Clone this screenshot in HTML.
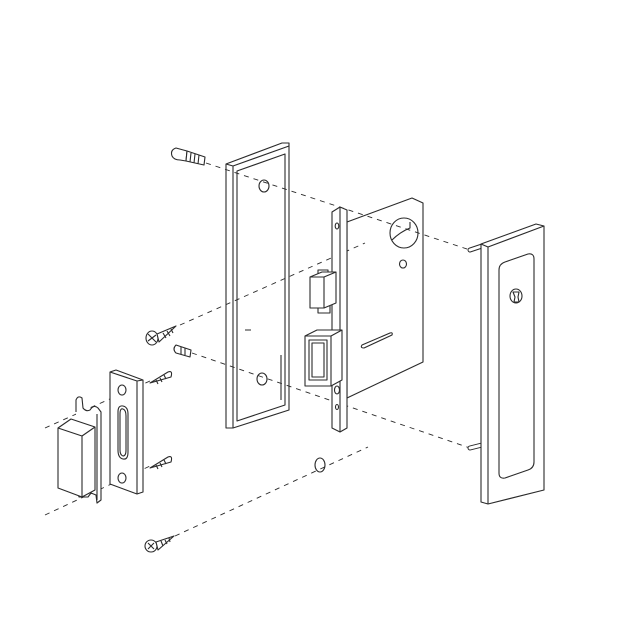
<!DOCTYPE html>
<html><head><meta charset="utf-8"><style>html,body{margin:0;padding:0;background:#fff}svg{display:block}</style></head>
<body>
<svg width="635" height="635" viewBox="0 0 635 635" xmlns="http://www.w3.org/2000/svg" fill="none" stroke="#2a2a2a" stroke-width="1.1" stroke-linejoin="round">
<rect width="635" height="635" fill="#fff" stroke="none"/>
<g fill="#fff">
<!-- top screw -->
<path d="M176 148 Q170 150 172 156 Q174 160 180 160 L186 161 L187 151 Z"/>
<path d="M187 151 L205 157 L204 165 L186 161 Z"/>
<path d="M191 153 L190 162 M195 154 L194 163 M199 155 L198 164"/>
<!-- cross screw -->
<ellipse cx="152" cy="338" rx="6" ry="7"/>
<path d="M148 334 L156 342 M148 341 L156 335"/>
<path d="M157 334 L176 326 L159 342 Z"/>
<path d="M163 333 L166 338 M167 331 L170 336 M171 329 L173 333"/>
<!-- small screw -->
<path d="M176 345 Q172 349 176 353 L190 357 L191 350 Z"/>
<path d="M181 347 L181 354 M185 348 L185 355"/>
<!-- strike screws -->
<path d="M150 383 L168 372 Q173 370 171 377 Z"/>
<path d="M156 380 L158 384 M160 378 L162 382 M164 375 L166 379"/>
<path d="M150 468 L168 457 Q173 455 171 462 Z"/>
<path d="M156 465 L158 469 M160 463 L162 467 M164 460 L166 464"/>
<!-- bottom screw -->
<ellipse cx="151" cy="546" rx="6" ry="6"/>
<path d="M148 543 L154 549 M148 549 L154 543"/>
<path d="M156 542 L174 536 L158 550 Z"/>
<path d="M161 541 L163 546 M165 540 L167 544 M169 538 L170 542"/>
</g>
<!-- trim plate -->
<path d="M226 164 L282 143 L289 143 L289 410 L233 428 L226 428 Z" fill="#fff"/>
<path d="M226 164 L233 166 L289 146 M233 166 L233 428"/>
<path d="M237 171 L285 154 L285 405 L237 421 Z"/>
<ellipse cx="264" cy="186" rx="5" ry="6"/>
<ellipse cx="262" cy="379" rx="5" ry="6"/>
<path d="M245 330 L251 330 M281 355 L281 400"/>
<!-- mortise body -->
<path d="M347 222 L412 198 L423 203 L423 362 L347 398 Z" fill="#fff"/>
<ellipse cx="404" cy="233" rx="14" ry="15"/>
<path d="M392 240 Q400 232 410 228 L410 222"/>
<ellipse cx="403" cy="264" rx="3.5" ry="4"/>
<path d="M362 345 L390 333 Q393 332 392 335 L364 348 Q360 348 362 345 Z"/>
<!-- oval -->
<ellipse cx="320" cy="465" rx="5" ry="7" fill="#fff"/>
<!-- dashed lines (drawn over) -->
<g stroke-dasharray="5,5" stroke-width="0.9">
<line x1="206" y1="163" x2="470" y2="250"/>
<line x1="180" y1="325" x2="365" y2="243"/>
<line x1="192" y1="353" x2="470" y2="448"/>
<line x1="175" y1="536" x2="368" y2="447"/>
<line x1="45" y1="428" x2="150" y2="381"/>
<line x1="45" y1="515" x2="150" y2="466"/>
</g>
<!-- faceplate -->
<path d="M332 212 L340 207 L347 210 L347 428 L340 432 L332 428 Z" fill="#fff"/>
<path d="M340 207 L340 432"/>
<ellipse cx="337" cy="226" rx="1.8" ry="3"/>
<ellipse cx="337" cy="390" rx="2.5" ry="4"/>
<ellipse cx="337" cy="407" rx="1.5" ry="2.5"/>
<!-- latch -->
<path d="M310 277 L322 272 L336 272 L336 303 L324 308 L310 308 Z" fill="#fff"/>
<path d="M310 277 L324 277 L336 272 M324 277 L324 308 M318 274 L318 270 L328 270 L328 272 M318 308 L318 313 L330 313 L330 306"/>
<!-- deadbolt -->
<path d="M305 336 L317 330 L342 330 L342 380 L331 386 L305 386 Z" fill="#fff"/>
<path d="M305 336 L331 336 L342 330 M331 336 L331 386"/>
<path d="M309 340 L327 340 L327 380 L309 380 Z M312 343 L324 343 L324 377 L312 377 Z"/>
<!-- right escutcheon -->
<path d="M470 250 L482 246" stroke-width="5" stroke-linecap="round"/>
<path d="M470 448 L482 445" stroke-width="5" stroke-linecap="round"/>
<path d="M470 250 L482 246 M470 448 L482 445" stroke="#fff" stroke-width="3" stroke-linecap="round"/>
<path d="M481 244 L536 224 L544 226 L544 490 L488 504 L481 502 Z" fill="#fff"/>
<path d="M481 244 L488 247 L544 226 M488 247 L488 504"/>
<path d="M499 270 Q499 264 505 262 L528 254 Q534 253 534 259 L534 462 Q534 468 528 470 L505 478 Q499 479 499 473 Z"/>
<ellipse cx="516" cy="296" rx="6" ry="7"/>
<path d="M513 292 L519 292 L518 297 L519 302 L514 302 L515 297 Z"/>
<!-- strike plate -->
<path d="M110 372 L116 370 L143 380 L143 492 L137 494 L110 484 Z" fill="#fff"/>
<path d="M110 372 L137 381 L143 380 M137 381 L137 494"/>
<ellipse cx="122" cy="390" rx="4" ry="5"/>
<ellipse cx="122" cy="478" rx="4" ry="5"/>
<path d="M118 412 Q118 405 123 406 Q128 407 128 414 L128 452 Q128 460 123 459 Q118 458 118 450 Z"/>
<path d="M120 414 Q120 408 123 409 Q126 410 126 416 L126 450 Q126 456 123 456 Q120 455 120 450 Z"/>
<!-- latch keeper -->
<path d="M76 412 L76 400 Q78 395 82 398 L83 408 Q86 412 90 410 Q94 404 98 408 L101 412 L101 500 L97 503 L96 495 L91 493 L88 497 L79 497 L77 490" fill="#fff"/>
<path d="M58 428 L71 419 L95 427 L95 490 L82 497 L58 488 Z" fill="#fff"/>
<path d="M58 428 L82 436 L95 427 M82 436 L82 497 M97 414 L97 500"/>
</svg>
</body></html>
